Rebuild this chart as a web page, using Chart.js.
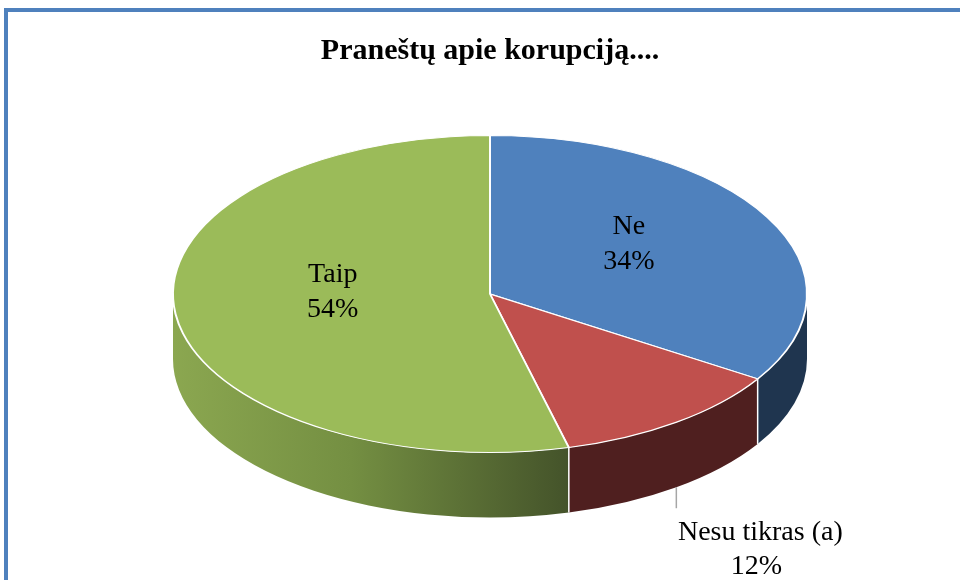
<!DOCTYPE html>
<html>
<head>
<meta charset="utf-8">
<script src="https://cdn.jsdelivr.net/npm/chart.js@4.4.1/dist/chart.umd.min.js"></script>
<style>
    html, body { margin: 0; padding: 0; background: #fff; }
</style>
</head>
<body>
<canvas id="myChart" width="960" height="580"></canvas>
<script>
const labels = ['Ne', 'Nesu tikras (a)', 'Taip'];
const values = [34, 12, 54];
const topColors = ['#4F81BD', '#C0504D', '#9BBB59'];
const sideLight = ['#1F354F', '#4F1F1F', '#8BA750'];
const sideDark = ['#1F354F', '#4F1F1F', '#44532A'];

const TILT = 2;      // horizontal stretch of the flat pie -> ellipse
const DEPTH = 65;    // thickness of the 3d side
const FONT = '"Liberation Serif", "Times New Roman", serif';

// blue frame around the chart
const framePlugin = {
    id: 'frame',
    beforeDraw(chart) {
        const ctx = chart.ctx;
        ctx.save();
        ctx.fillStyle = '#4F81BD';
        ctx.fillRect(4, 8, 956, 4);
        ctx.fillRect(4, 8, 4, 572);
        ctx.restore();
    }
};

// draws the side walls and squashes the pie into a tilted disc
const tiltPlugin = {
    id: 'tilt3d',
    beforeDatasetsDraw(chart) {
        const ctx = chart.ctx;
        const arcs = chart.getDatasetMeta(0).data;
        const cx = arcs[0].x, cy = arcs[0].y, r = arcs[0].outerRadius;
        const rx = r * TILT, ry = r;

        ctx.save();
        arcs.forEach((arc, i) => {
            [0, 2 * Math.PI, -2 * Math.PI].forEach(off => {
                const a = Math.max(arc.startAngle, off);
                const b = Math.min(arc.endAngle, off + Math.PI);
                if (b <= a) return;
                const x0 = cx + rx * Math.cos(b);
                const x1 = cx + rx * Math.cos(a);
                const grad = ctx.createLinearGradient(x0, 0, x1, 0);
                grad.addColorStop(0, sideLight[i]);
                grad.addColorStop(0.45, i === 2 ? '#748F42' : sideLight[i]);
                grad.addColorStop(1, sideDark[i]);
                ctx.beginPath();
                ctx.ellipse(cx, cy, rx, ry, 0, a, b, false);
                ctx.ellipse(cx, cy + DEPTH, rx, ry, 0, b, a, true);
                ctx.closePath();
                ctx.fillStyle = grad;
                ctx.fill();
            });
        });
        // white seams between the walls
        ctx.strokeStyle = '#ffffff';
        ctx.lineWidth = 1.5;
        arcs.forEach(arc => {
            const ang = ((arc.endAngle % (2 * Math.PI)) + 2 * Math.PI) % (2 * Math.PI);
            if (ang > 0.01 && ang < Math.PI - 0.01) {
                const x = cx + rx * Math.cos(ang);
                const y = cy + ry * Math.sin(ang);
                ctx.beginPath();
                ctx.moveTo(x, y);
                ctx.lineTo(x, y + DEPTH);
                ctx.stroke();
            }
        });
        ctx.restore();

        // squash the top face
        ctx.save();
        ctx.translate(cx, cy);
        ctx.scale(TILT, 1);
        ctx.translate(-cx, -cy);
    },
    afterDatasetsDraw(chart) {
        const ctx = chart.ctx;
        ctx.restore();

        const arcs = chart.getDatasetMeta(0).data;
        const total = values.reduce((s, v) => s + v, 0);
        ctx.save();
        ctx.font = '28px ' + FONT;
        ctx.fillStyle = '#000';
        ctx.textAlign = 'center';
        ctx.textBaseline = 'middle';
        arcs.forEach((arc, i) => {
            const cx = arc.x, cy = arc.y, r = arc.outerRadius;
            const mid = (arc.startAngle + arc.endAngle) / 2;
            const pct = Math.round(values[i] / total * 100) + '%';
            if (values[i] >= 20) {
                const x = cx + TILT * 0.5 * r * Math.cos(mid);
                const y = cy + 0.5 * r * Math.sin(mid) - 12;
                ctx.fillText(labels[i], x, y - 17);
                ctx.fillText(pct, x, y + 18);
            } else {
                // label below the pie with a leader line
                const lx = cx + TILT * r * Math.cos(mid);
                const ly = cy + r * Math.sin(mid) + DEPTH;
                ctx.strokeStyle = '#A6A6A6';
                ctx.lineWidth = 1.5;
                ctx.beginPath();
                ctx.moveTo(lx, ly);
                ctx.lineTo(lx, ly + 21);
                ctx.stroke();
                ctx.fillText(labels[i], lx + 84, ly + 45);
                ctx.fillText(pct, lx + 80, ly + 79);
            }
        });
        ctx.restore();
    }
};

const ctx = document.getElementById('myChart').getContext('2d');
const myChart = new Chart(ctx, {
    type: 'pie',
    data: {
        labels: labels,
        datasets: [{
            data: values,
            backgroundColor: topColors,
            borderColor: '#ffffff',
            borderWidth: 1,
            clip: false
        }]
    },
    options: {
        responsive: false,
        animation: false,
        events: [],
        layout: {
            padding: { left: 172, right: 152, top: 0, bottom: 127 }
        },
        plugins: {
            legend: { display: false },
            tooltip: { enabled: false },
            title: {
                display: true,
                text: 'Praneštų apie korupciją....',
                color: '#000',
                font: { family: FONT, size: 30, weight: 'bold' },
                padding: { top: 33, bottom: 66 }
            }
        }
    },
    plugins: [framePlugin, tiltPlugin]
});
</script>
</body>
</html>
